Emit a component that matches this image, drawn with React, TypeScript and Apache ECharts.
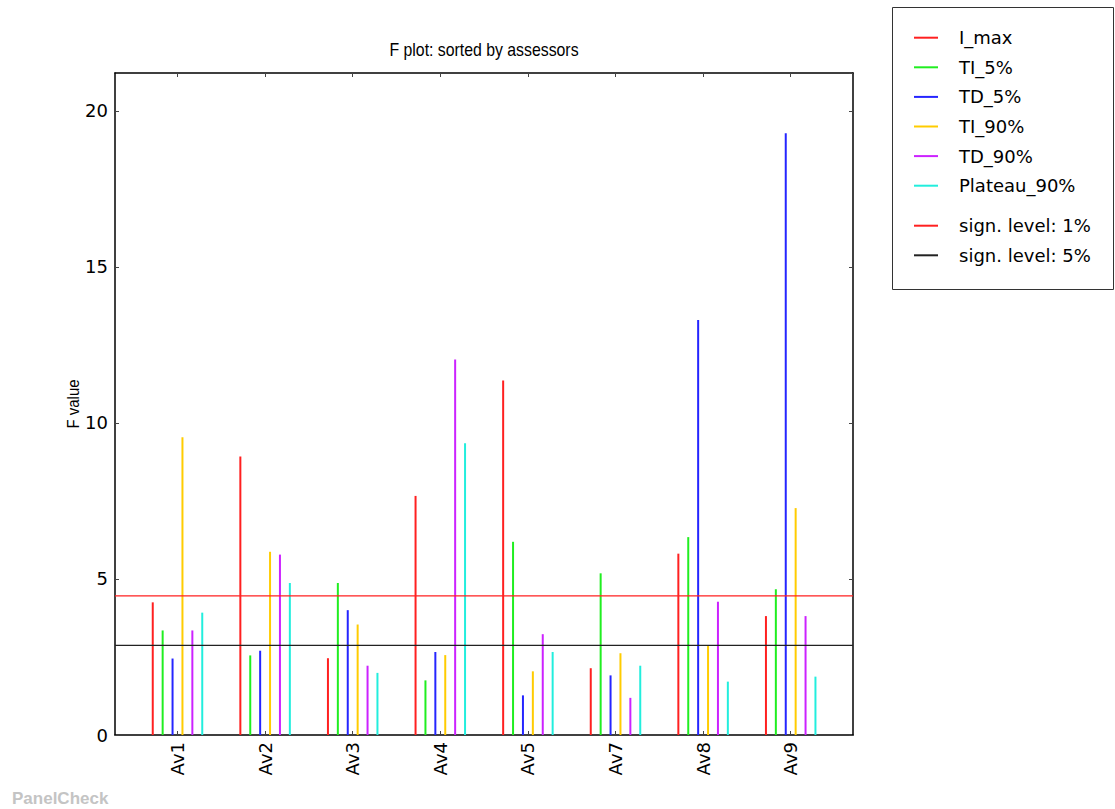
import React, { useEffect, useRef } from "react";
import * as echarts from "echarts";

const categories = ["Av1", "Av2", "Av3", "Av4", "Av5", "Av7", "Av8", "Av9"];
const seriesNames = ["I_max", "TI_5%", "TD_5%", "TI_90%", "TD_90%", "Plateau_90%"];
const iMax = [4.25, 8.92, 2.46, 7.66, 11.36, 2.14, 5.81, 3.81];
const ti5 = [3.35, 2.55, 4.87, 1.75, 6.19, 5.18, 6.34, 4.67];
const td5 = [2.45, 2.7, 4.0, 2.66, 1.27, 1.91, 13.3, 19.28];
const ti90 = [9.54, 5.87, 3.54, 2.56, 2.04, 2.62, 2.85, 7.27];
const td90 = [3.35, 5.78, 2.22, 12.03, 3.23, 1.19, 4.27, 3.81];
const plateau90 = [3.92, 4.87, 1.99, 9.35, 2.66, 2.22, 1.71, 1.87];
const signNames = ["sign. level: 1%", "sign. level: 5%"];
const signLevels = [4.46, 2.87];
const yMax = 21.21;

const seriesColors = ["#ff2020", "#20ee20", "#2525ff", "#ffcc00", "#cc22ff", "#22eedd"];
const signColors = ["#ff2020", "#222222"];

export default function App() {
  const ref = useRef<HTMLDivElement>(null);
  useEffect(() => {
    if (!ref.current) return;
    const chart = echarts.init(ref.current, null, { renderer: "svg" });
    const values = [iMax, ti5, td5, ti90, td90, plateau90];
    const font = "DejaVu Sans";
    const narrow = "'Liberation Sans', Arial";
    const barSeries = seriesNames.map((name, i) => ({
      name,
      type: "bar",
      xAxisIndex: 2,
      yAxisIndex: 2,
      data: values[i],
      barWidth: 2,
      barGap: "395%",
      itemStyle: { color: seriesColors[i] },
    }));
    const lineSeries = signNames.map((name, i) => ({
      name,
      type: "line",
      xAxisIndex: 0,
      yAxisIndex: 0,
      data: [
        [0, signLevels[i]],
        [1, signLevels[i]],
      ],
      symbol: "none",
      lineStyle: { color: signColors[i], width: 1.3 },
      itemStyle: { color: signColors[i] },
      z: 3,
    }));
    const legendCommon = {
      orient: "vertical",
      left: 909,
      icon: "rect",
      itemWidth: 24,
      itemHeight: 2,
      itemGap: 9.6,
      textStyle: { fontFamily: font, fontSize: 18, color: "#000", lineHeight: 20, padding: [0, 0, 0, 16] },
    };
    const frameLine = { show: true, onZero: false, lineStyle: { color: "#000", width: 1.5 } };
    const tick = { show: true, inside: true, length: 4, lineStyle: { color: "#444" } };
    chart.setOption({
      animation: false,
      backgroundColor: "#fff",
      legend: [
        { ...legendCommon, top: 22.7, data: seriesNames },
        { ...legendCommon, top: 210.7, data: signNames },
      ],
      grid: [
        { left: 115, top: 73, width: 738, height: 662 },
        { left: 133.7, top: 73, width: 700.8, height: 662 },
      ],
      xAxis: [
        {
          type: "value", gridIndex: 0, min: 0, max: 1, position: "bottom",
          axisLine: frameLine, axisTick: { show: false }, axisLabel: { show: false }, splitLine: { show: false },
        },
        {
          type: "value", gridIndex: 0, min: 0, max: 1, position: "top",
          axisLine: frameLine, axisTick: { show: false }, axisLabel: { show: false }, splitLine: { show: false },
        },
        {
          type: "category", gridIndex: 1, data: categories, position: "bottom",
          axisLine: { show: false, onZero: false },
          axisTick: { ...tick, alignWithLabel: true },
          axisLabel: { rotate: 90, margin: 7, fontFamily: font, fontSize: 18, color: "#000" },
        },
        {
          type: "category", gridIndex: 1, data: categories, position: "top",
          axisLine: { show: false, onZero: false },
          axisTick: { ...tick, alignWithLabel: true },
          axisLabel: { show: false },
        },
      ],
      yAxis: [
        {
          type: "value", gridIndex: 0, min: 0, max: yMax, interval: 5, position: "left",
          axisLine: frameLine, axisTick: tick,
          axisLabel: { fontFamily: font, fontSize: 18, color: "#000", margin: 7, showMaxLabel: false },
          splitLine: { show: false },
        },
        {
          type: "value", gridIndex: 0, min: 0, max: yMax, interval: 5, position: "right",
          axisLine: frameLine, axisTick: tick, axisLabel: { show: false }, splitLine: { show: false },
        },
        {
          type: "value", gridIndex: 1, min: 0, max: yMax, show: false, splitLine: { show: false },
        },
      ],
      graphic: [
        {
          type: "rect",
          shape: { x: 892.5, y: 7.5, width: 221, height: 282 },
          style: { fill: "none", stroke: "#333", lineWidth: 1 },
          z: -1,
        },
        {
          type: "text",
          x: 484,
          y: 50,
          scaleX: 0.88,
          style: { text: "F plot: sorted by assessors", fontFamily: narrow, fontSize: 18, fill: "#000", align: "center", verticalAlign: "middle" },
        },
        {
          type: "text",
          x: 73,
          y: 404,
          rotation: Math.PI / 2,
          scaleX: 0.88,
          style: { text: "F value", fontFamily: narrow, fontSize: 17, fill: "#000", align: "center", verticalAlign: "middle" },
        },
        {
          type: "text",
          left: 12,
          top: 790,
          style: { text: "PanelCheck", fontFamily: "'Liberation Sans', Arial", fontSize: 17, fontWeight: "bold", fill: "#c4c4c4" },
        },
      ],
      series: [...barSeries, ...lineSeries],
    });
    return () => chart.dispose();
  }, []);
  return <div ref={ref} style={{ position: "absolute", left: 0, top: 0, width: 1115, height: 809 }} />;
}
